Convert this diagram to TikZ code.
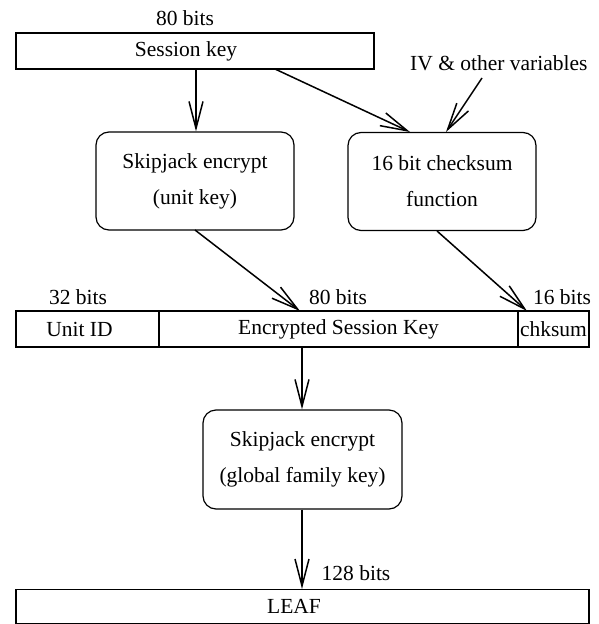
\documentclass[tikz,border=0pt]{standalone}
\usepackage{fontspec}
\setmainfont{Liberation Serif}
\usetikzlibrary{arrows.meta}
\begin{document}
\begin{tikzpicture}[x=1pt,y=-1pt,
  every node/.style={font=\fontsize{21.5}{36}\selectfont},
  box/.style={draw,line width=1.2pt,inner sep=0pt},
  rbox/.style={box,rounded corners=13pt,align=center},
  lbl/.style={inner sep=0pt},
  arr/.style={line width=1.5pt,-{Straight Barb[length=27pt,width=14pt,line width=1.5pt]}}]
\useasboundingbox (0,0) rectangle (598,624);
\node[box,minimum width=358pt,minimum height=36pt] (sk) at (195,51) {Session key\hspace*{18pt}};
\node[lbl] (l80a) at (185,18) {80 bits};
\node[lbl,anchor=west] (iv) at (410,63) {IV \& other variables};
\node[rbox,minimum width=198pt,minimum height=98pt] (b1) at (195,181) {Skipjack encrypt\\(unit key)};
\node[rbox,minimum width=188pt,minimum height=98pt] (b2) at (442,181.5) {16 bit checksum\\function};
\node[box,minimum width=143pt,minimum height=36pt] (uid) at (87.5,329) {Unit ID\hspace*{16pt}};
\node[box,minimum width=359pt,minimum height=36pt] (esk) at (338.5,329) {Encrypted Session Key};
\node[box,minimum width=71pt,minimum height=36pt] (chk) at (553.5,329) {chksum};
\node[lbl] (l32) at (78,297) {32 bits};
\node[lbl] (l80b) at (338,297) {80 bits};
\node[lbl] (l16) at (562,297) {16 bits};
\node[rbox,minimum width=199pt,minimum height=99pt] (b3) at (302.5,459.5) {Skipjack encrypt\\(global family key)};
\node[box,minimum width=573pt,minimum height=34pt,anchor=north] (leaf) at (302.5,589) {LEAF\hspace*{17pt}};
\node[lbl] (l128) at (356,573) {128 bits};
\coordinate (sk1) at (196,69);
\coordinate (sk2) at (275,69);
\coordinate (b2in) at (410,132);
\coordinate (ivs) at (482,78);
\coordinate (b2in2) at (446,132);
\coordinate (b1out) at (195,230);
\coordinate (eskin) at (300,311);
\coordinate (b2out) at (437,231);
\coordinate (chkin) at (527,311);
\coordinate (eskout) at (302,347);
\draw[arr] (sk1) -- (sk1 |- b1.north);
\draw[arr] (sk2) -- (b2in);
\draw[arr] (ivs) -- (b2in2);
\draw[arr] (b1out) -- (eskin);
\draw[arr] (b2out) -- (chkin);
\draw[arr] (eskout) -- (eskout |- b3.north);
\draw[arr] (eskout |- b3.south) -- (eskout |- leaf.north);
\end{tikzpicture}
\end{document}
